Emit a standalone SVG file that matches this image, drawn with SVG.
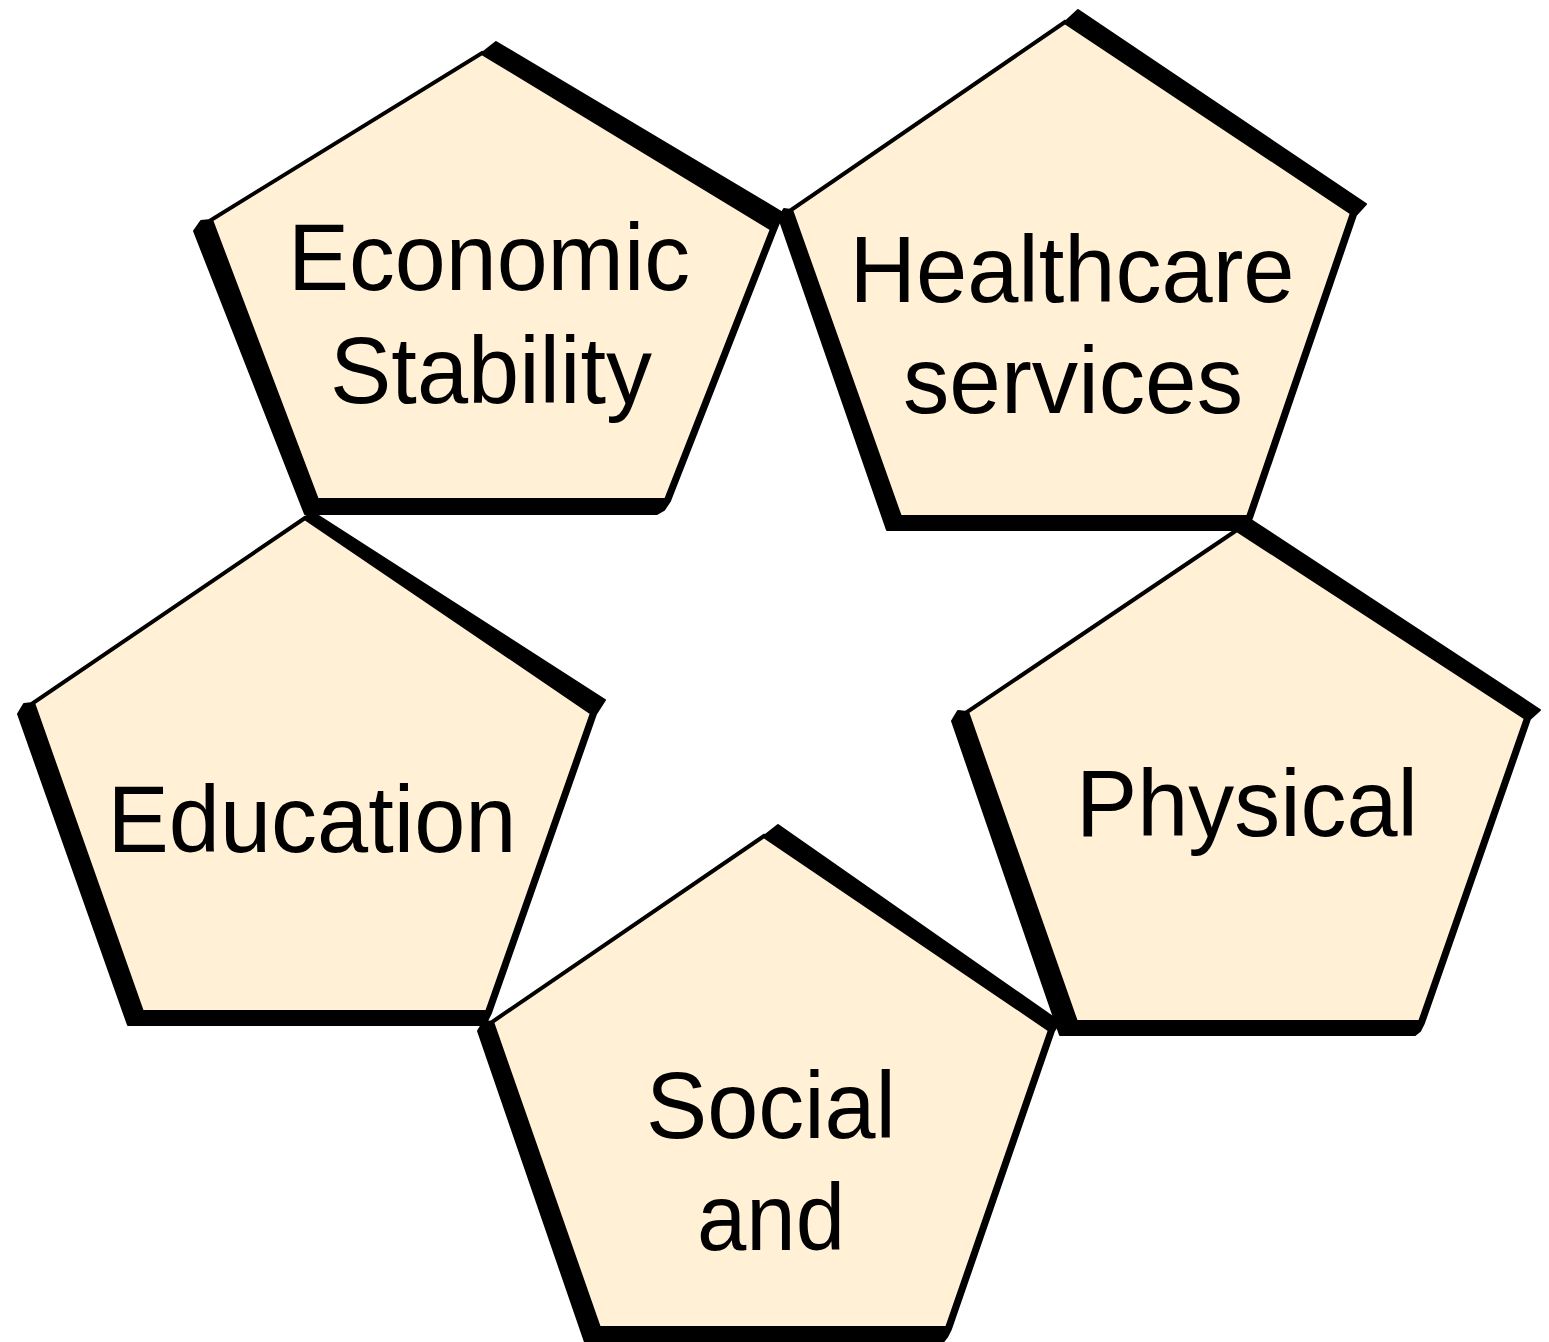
<svg xmlns="http://www.w3.org/2000/svg" width="1549" height="1342" viewBox="0 0 1549 1342">
<style>
.sh{fill:#000;stroke:#000;stroke-width:2;stroke-linejoin:round}
.pg{fill:#FFF0D6;stroke:#000;stroke-width:4;stroke-linejoin:miter}
.t{font-family:"Liberation Sans",Arial,Helvetica,sans-serif;font-size:95px;fill:#000;text-anchor:middle}
</style>
<rect width="1549" height="1342" fill="#fff"/>
<g id="economic">
<polygon class="sh" points="496,42 783,213 776,230 670,501 664,510 657,514 305,514 194,231 201,221 211,220 482,53"/>
<polygon class="pg" points="482,53 772,229 666,500 317,500 211,220"/>
<text class="t" x="489" y="290" textLength="402" lengthAdjust="spacingAndGlyphs">Economic</text>
<text class="t" x="491" y="403" textLength="322" lengthAdjust="spacingAndGlyphs">Stability</text>
</g>
<g id="healthcare">
<polygon class="sh" points="1078,10 1366,204 1356,215 1252,518 1248,526 1243,530 887,530 779,218 784,209 791,210 1065,22"/>
<polygon class="pg" points="1065,22 1352,213 1248,517 900,517 791,210"/>
<text class="t" x="1072" y="302" textLength="445" lengthAdjust="spacingAndGlyphs">Healthcare</text>
<text class="t" x="1073" y="413" textLength="340" lengthAdjust="spacingAndGlyphs">services</text>
</g>
<g id="education">
<polygon class="sh" points="311,511 605,700 596,714 491,1013 487,1021 482,1025 128,1025 18,714 24,704 33,703 305,518"/>
<polygon class="pg" points="305,518 592,713 487,1012 142,1012 33,703"/>
<text class="t" x="312" y="852" textLength="409" lengthAdjust="spacingAndGlyphs">Education</text>
</g>
<g id="social">
<polygon class="sh" points="778,825 1060,1022 1054,1031 951,1329 947,1337 943,1342 585,1342 478,1031 484,1021 492,1022 764,836"/>
<polygon class="pg" points="764,836 1050,1030 947,1328 599,1328 492,1022"/>
<text class="t" x="771" y="1138" textLength="250" lengthAdjust="spacingAndGlyphs">Social</text>
<text class="t" x="771" y="1250" textLength="148" lengthAdjust="spacingAndGlyphs">and</text>
</g>
<g id="physical">
<polygon class="sh" points="1248,518 1540,710 1530,719 1424,1023 1420,1031 1415,1035 1060,1035 952,721 958,711 967,712 1237,530"/>
<polygon class="pg" points="1237,530 1526,718 1420,1022 1076,1022 967,712"/>
<text class="t" x="1247" y="836" textLength="342" lengthAdjust="spacingAndGlyphs">Physical</text>
</g>
<g id="connectors"/>
</svg>
